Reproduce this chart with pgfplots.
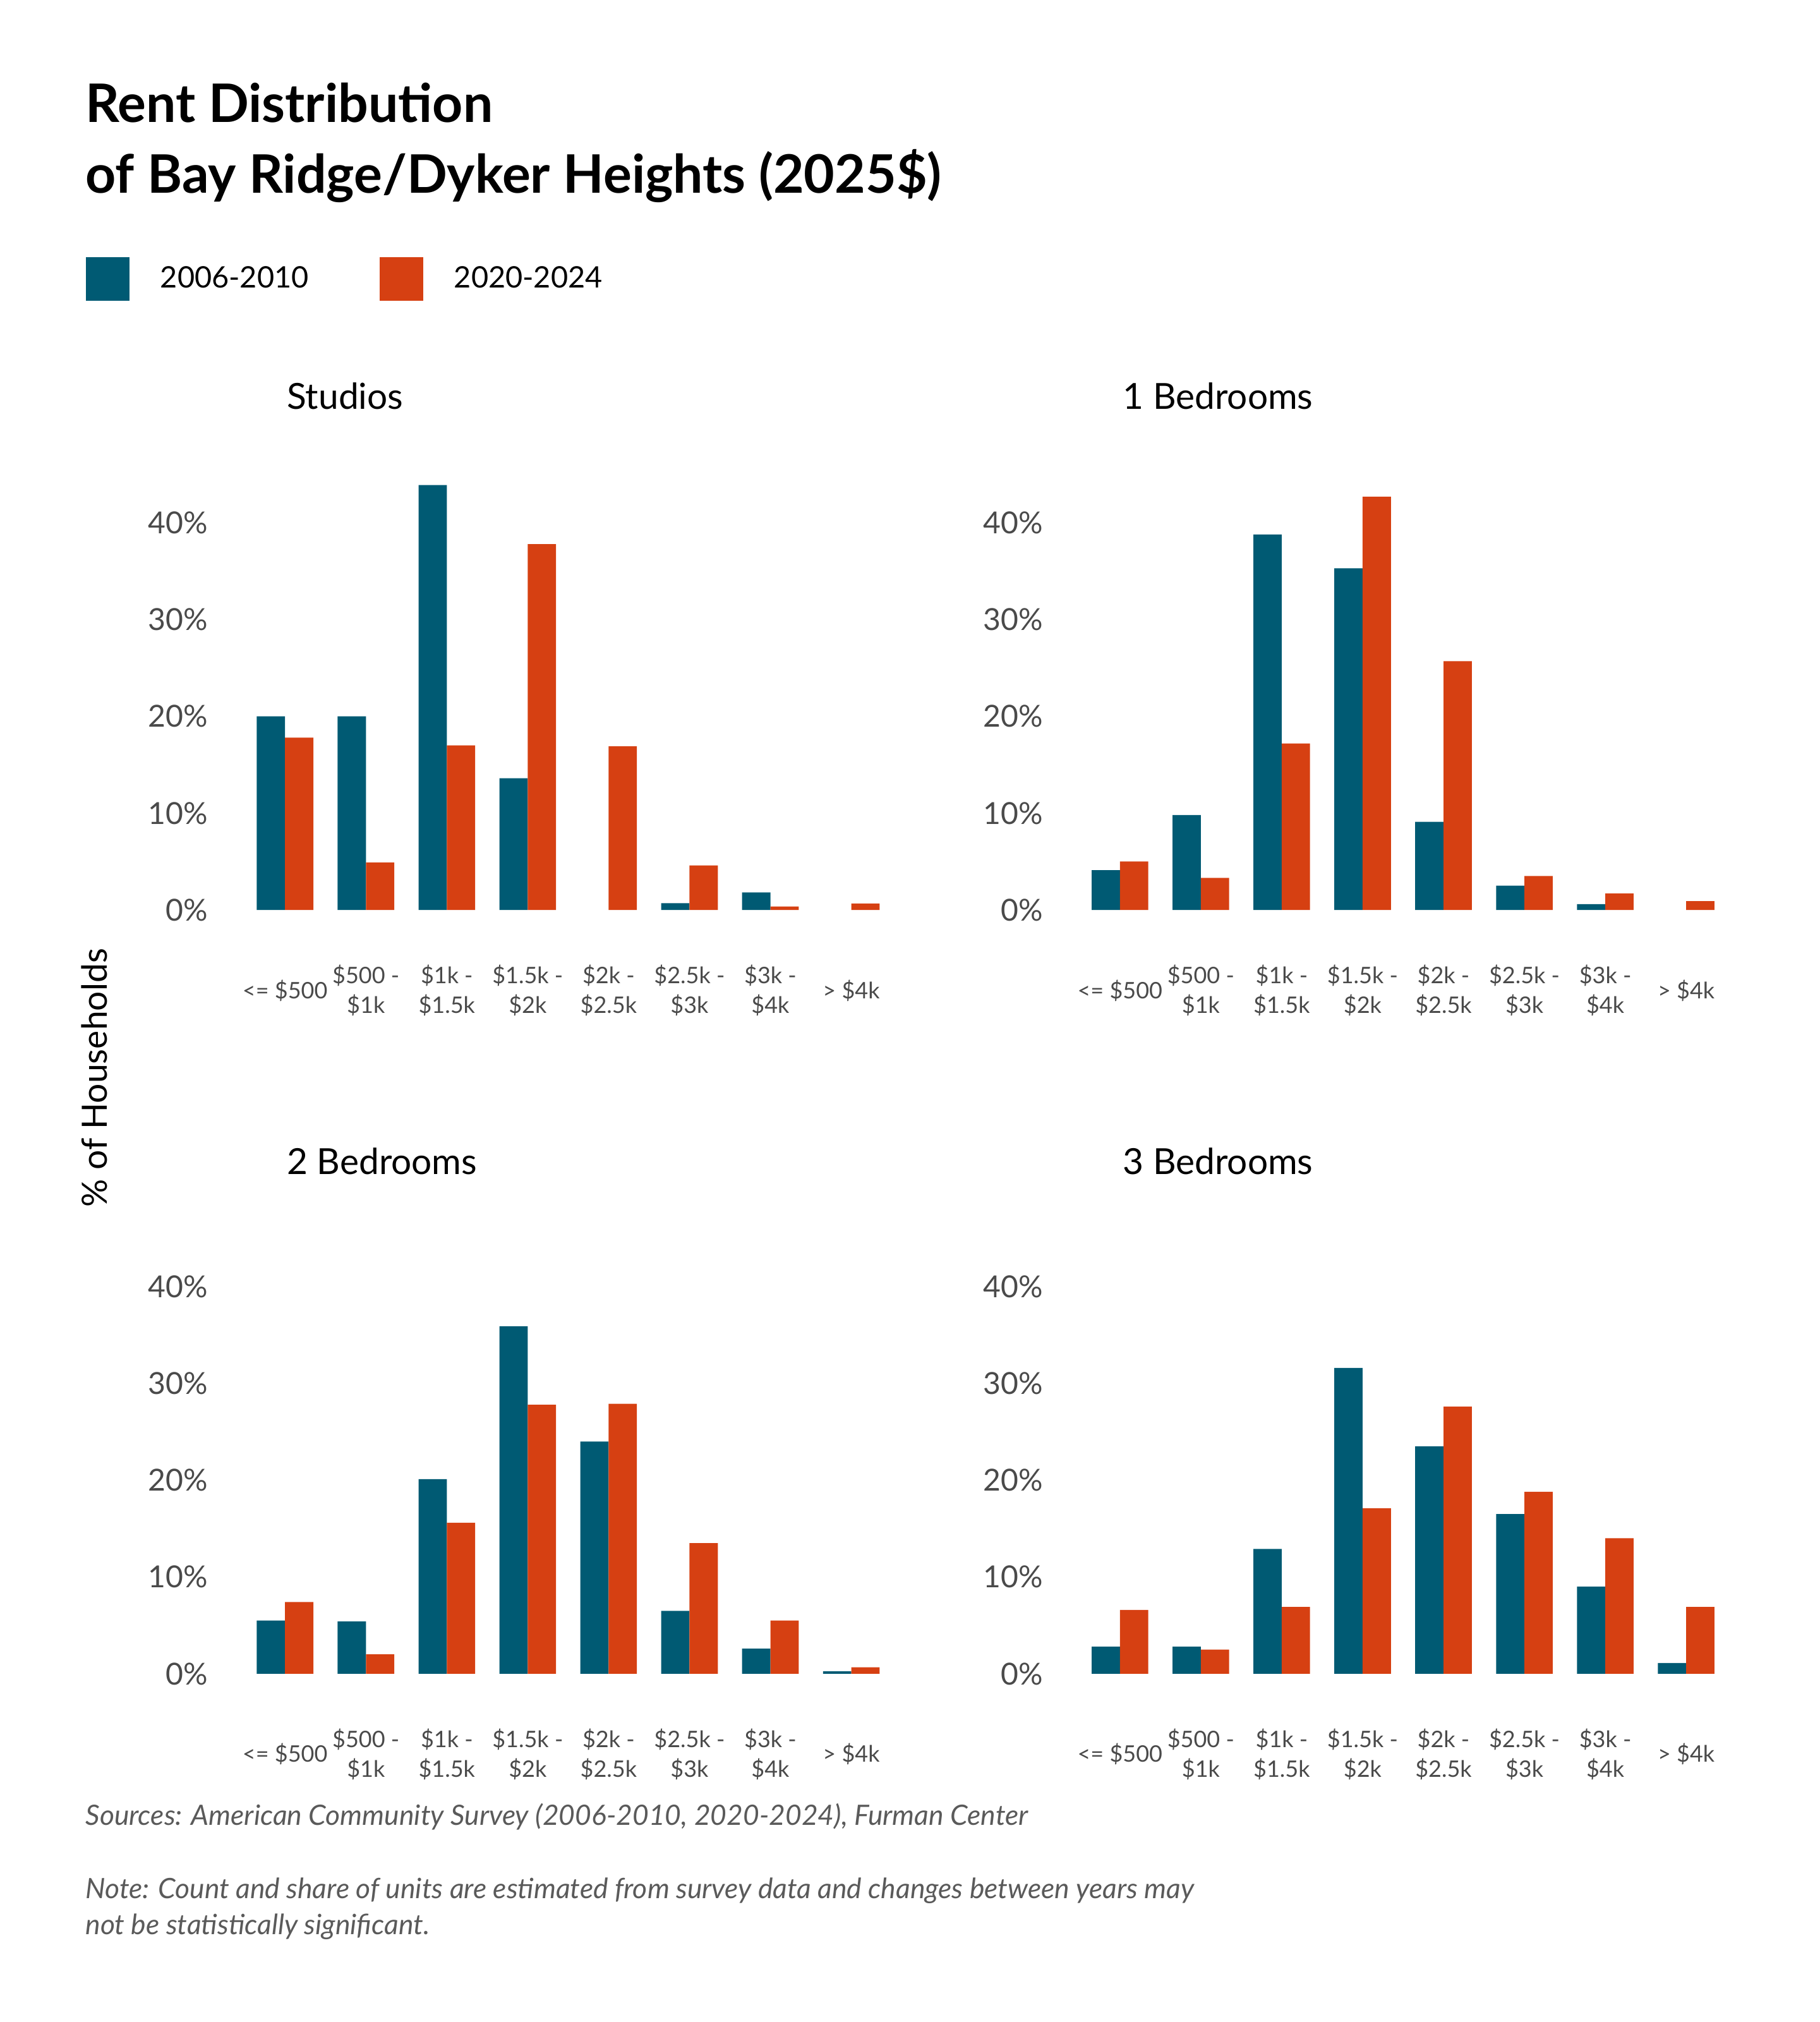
\documentclass[border=0pt]{standalone}
\usepackage{fontspec}
\setmainfont{Lato}
\usepackage{pgfplots}
\pgfplotsset{compat=1.18}
\definecolor{cblue}{HTML}{005A73}
\definecolor{corange}{HTML}{D64012}
\definecolor{tgray}{HTML}{4A4A4A}
\definecolor{sgray}{HTML}{5A5A5A}
\pgfplotsset{panel/.style={
  ybar=0pt, bar width=11.2pt,
  scale only axis, width=256.1pt, height=172.3pt,
  xmin=-0.5, xmax=7.5, ymin=0, ymax=45,
  anchor=south west,
  axis line style={draw=none}, tick style={draw=none},
  xtick={0,...,7},
  xticklabels={{<= \$500},{\$500 -\\\$1k},{\$1k -\\\$1.5k},{\$1.5k -\\\$2k},{\$2k -\\\$2.5k},{\$2.5k -\\\$3k},{\$3k -\\\$4k},{> \$4k}},
  xticklabel style={font=\fontsize{9}{11.7}\selectfont, text=tgray, align=center, anchor=center, yshift=-27.6pt},
  ytick={0,10,20,30,40},
  yticklabels={0\%,10\%,20\%,30\%,40\%},
  yticklabel style={font=\fontsize{12}{14}\selectfont, text=tgray, xshift=-11pt},
  clip=false,
},
bleg/.style={legend image code/.code={\fill[cblue, draw=none] (0pt,-8.7pt) rectangle (17.4pt,8.7pt); \path[draw=none, fill=none] (27.6pt,0pt) circle (0pt);}},
oleg/.style={legend image code/.code={\fill[corange, draw=none] (0pt,-8.7pt) rectangle (17.4pt,8.7pt); \path[draw=none, fill=none] (27.6pt,0pt) circle (0pt);}}
}
\begin{document}
\begin{tikzpicture}
\path[use as bounding box] (0,0) rectangle (720pt,-800pt);
% Studios
\begin{axis}[panel, at={(96.8pt,-360pt)},
  legend style={at={(-0.2464,1.449)}, anchor=west, draw=none, fill=none, inner sep=0pt,
    font=\fontsize{11.7}{14}\selectfont, legend columns=2,
    /tikz/every even column/.append style={column sep=26pt}},
  legend cell align=left]
\addplot[fill=cblue, draw=none, bleg] coordinates {(0,20.0) (1,20.0) (2,43.9) (3,13.6) (5,0.7) (6,1.8)};
\addplot[fill=corange, draw=none, oleg] coordinates {(0,17.8) (1,4.9) (2,17.0) (3,37.8) (4,16.9) (5,4.6) (6,0.36) (7,0.67)};
\legend{2006-2010,2020-2024}
\end{axis}
% 1 Bedrooms
\begin{axis}[panel, at={(427.2pt,-360pt)}]
\addplot[fill=cblue, draw=none] coordinates {(0,4.1) (1,9.8) (2,38.8) (3,35.3) (4,9.1) (5,2.5) (6,0.6)};
\addplot[fill=corange, draw=none] coordinates {(0,5.0) (1,3.3) (2,17.2) (3,42.7) (4,25.7) (5,3.5) (6,1.7) (7,0.9)};
\end{axis}
% 2 Bedrooms
\begin{axis}[panel, at={(96.8pt,-662.2pt)}]
\addplot[fill=cblue, draw=none] coordinates {(0,5.5) (1,5.4) (2,20.1) (3,35.9) (4,24.0) (5,6.5) (6,2.6) (7,0.26)};
\addplot[fill=corange, draw=none] coordinates {(0,7.4) (1,2.0) (2,15.6) (3,27.8) (4,27.9) (5,13.5) (6,5.5) (7,0.66)};
\end{axis}
% 3 Bedrooms
\begin{axis}[panel, at={(427.2pt,-662.2pt)}]
\addplot[fill=cblue, draw=none] coordinates {(0,2.8) (1,2.8) (2,12.9) (3,31.6) (4,23.5) (5,16.5) (6,9.0) (7,1.1)};
\addplot[fill=corange, draw=none] coordinates {(0,6.6) (1,2.5) (2,6.9) (3,17.1) (4,27.6) (5,18.8) (6,14.0) (7,6.9)};
\end{axis}
% titles
\node[anchor=base west, inner sep=0pt, font=\fontsize{21}{25}\selectfont\bfseries] at (33.7pt,-48.3pt) {Rent Distribution};
\node[anchor=base west, inner sep=0pt, font=\fontsize{21}{25}\selectfont\bfseries] at (33.7pt,-76.4pt) {of Bay Ridge/Dyker Heights (2025\$)};
\node[anchor=west, inner sep=0pt, font=\fontsize{14.2}{17}\selectfont] at (113.4pt,-156.8pt) {Studios};
\node[anchor=west, inner sep=0pt, font=\fontsize{14.2}{17}\selectfont] at (444.2pt,-156.8pt) {1 Bedrooms};
\node[anchor=west, inner sep=0pt, font=\fontsize{14.2}{17}\selectfont] at (113.4pt,-459.5pt) {2 Bedrooms};
\node[anchor=west, inner sep=0pt, font=\fontsize{14.2}{17}\selectfont] at (444.2pt,-459.5pt) {3 Bedrooms};
\node[rotate=90, inner sep=0pt, font=\fontsize{13.8}{16}\selectfont] at (37.3pt,-426.4pt) {\% of Households};
\node[anchor=base west, inner sep=0pt, font=\fontsize{11.1}{14}\selectfont\itshape, text=sgray] at (33.7pt,-722pt) {Sources: American Community Survey (2006-2010, 2020-2024), Furman Center};
\node[anchor=base west, inner sep=0pt, font=\fontsize{11.1}{14}\selectfont\itshape, text=sgray] at (33.7pt,-751pt) {Note: Count and share of units are estimated from survey data and changes between years may};
\node[anchor=base west, inner sep=0pt, font=\fontsize{11.1}{14}\selectfont\itshape, text=sgray] at (33.7pt,-765.4pt) {not be statistically significant.};
\end{tikzpicture}
\end{document}
